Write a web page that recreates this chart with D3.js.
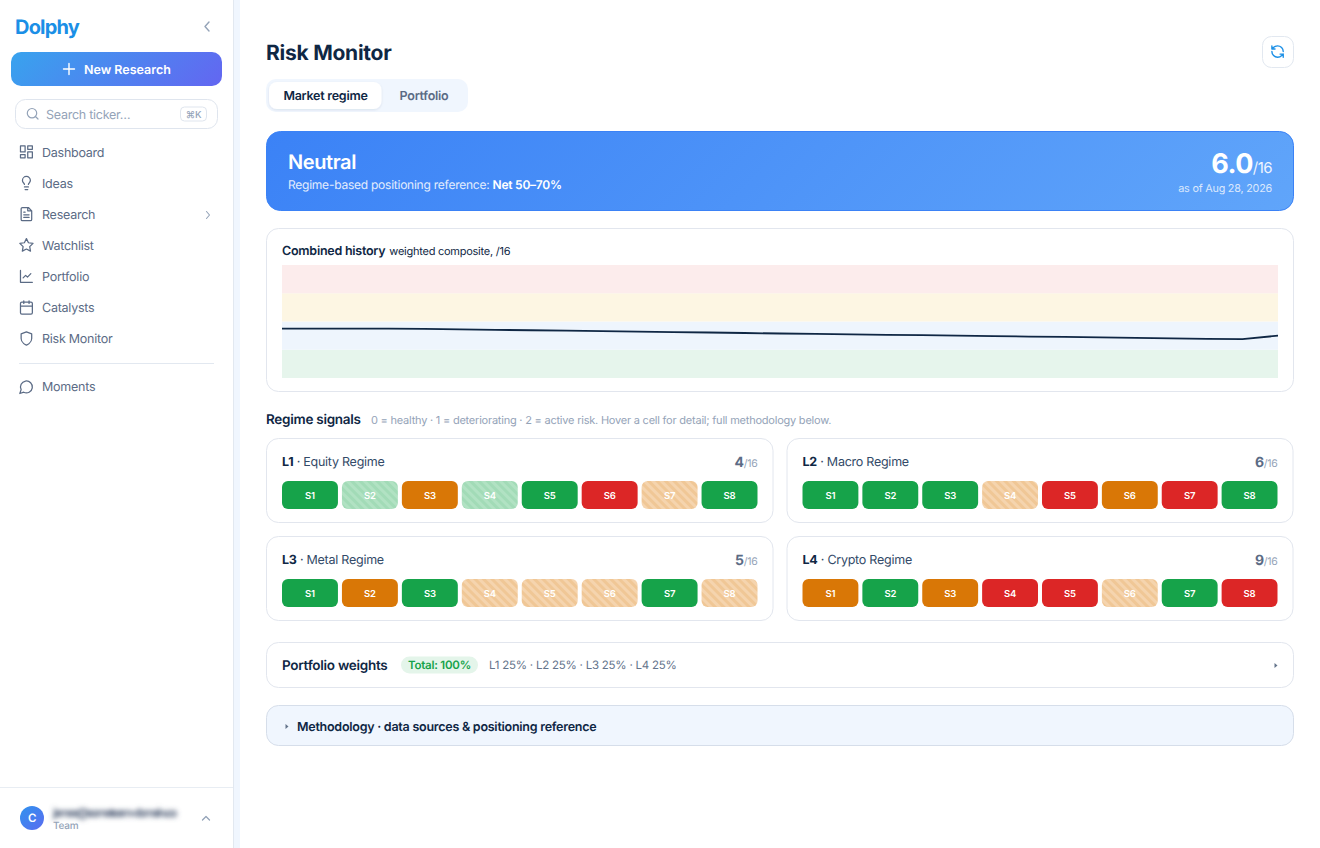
<!DOCTYPE html>
<html><head><meta charset="utf-8">
<script src="https://cdn.jsdelivr.net/npm/d3@7"></script>
<style>
html,body{margin:0;padding:0;background:#fff;overflow:hidden}
svg{display:block}
text{font-family:Inter,"Noto Sans",sans-serif;text-rendering:geometricPrecision;letter-spacing:-0.02em}
</style></head><body><div id="app"></div>
<script>
const navItems=["Dashboard","Ideas","Research","Watchlist","Portfolio","Catalysts","Risk Monitor"];
const historyValues=[7.0,7.0,7.0,7.0,6.95,6.88,6.82,6.76,6.7,6.63,6.56,6.5,6.44,6.37,6.3,6.25,6.19,6.12,6.06,6.0,5.94,5.87,5.81,5.75,5.69,5.62,5.54,5.5,6.0];
const bandEdges=[0,4,8,12,16];
const bandColors=["#e6f5ec","#eef5fd","#fdf6e3","#fcecec"];
const signalNames=["S1","S2","S3","S4","S5","S6","S7","S8"];
const layerIds=["L1","L2","L3","L4"];
const layerNames=["Equity Regime","Macro Regime","Metal Regime","Crypto Regime"];
const layerScores=[4,6,5,9];
const layerSignals=[[0,0,1,0,0,2,1,0],[0,0,0,1,2,1,2,0],[0,1,0,1,1,1,0,1],[1,0,1,2,2,1,0,2]];
const layerHatched=[[0,1,0,1,0,0,1,0],[0,0,0,1,0,0,0,0],[0,0,0,1,1,1,0,1],[0,0,0,0,0,1,0,0]];
const stateColors=["#16a34a","#d97706","#dc2626"];
const hatchDark=["#a2dbb7","#f0c796","#f0a8a8"];
const hatchLight=["#b1e2c3","#f5d4ae","#f5bcbc"];
const weightsText="L1 25% · L2 25% · L3 25% · L4 25%";

const ink="#0f2744",slate="#5b6b85",muted="#94a3b8";
const svg=d3.select("#app").append("svg").attr("width",1320).attr("height",848);
const defs=svg.append("defs");
function grad(id,x1,y1,x2,y2,stops){const g=defs.append("linearGradient").attr("id",id).attr("gradientUnits","userSpaceOnUse").attr("x1",x1).attr("y1",y1).attr("x2",x2).attr("y2",y2);
 stops.forEach(([o,c])=>g.append("stop").attr("offset",o).attr("stop-color",c));}
grad("btn",55,8,178,130,[["0%","#38a3ee"],["100%","#6366f1"]]);
grad("hero",503,-105,1056,447,[["0%","#3b82f6"],["100%","#60a5fa"]]);
grad("ava",20,806,44,830,[["0%","#2f93ee"],["100%","#5b6cf0"]]);
defs.append("filter").attr("id","blur").attr("x","-10%").attr("y","-60%").attr("width","120%").attr("height","220%").append("feGaussianBlur").attr("stdDeviation",2.4);
const sh=defs.append("filter").attr("id","tabsh").attr("x","-10%").attr("y","-20%").attr("width","120%").attr("height","150%");
sh.append("feDropShadow").attr("dx",0).attr("dy",1).attr("stdDeviation",1.2).attr("flood-color","#0f2744").attr("flood-opacity",0.1);
stateColors.forEach((c,i)=>{
 const p=defs.append("pattern").attr("id","hatch"+i).attr("width",6).attr("height",6).attr("patternUnits","userSpaceOnUse").attr("patternTransform","rotate(-45)");
 p.append("rect").attr("width",6).attr("height",6).attr("fill",hatchDark[i]);
 p.append("rect").attr("width",3).attr("height",6).attr("fill",hatchLight[i]);
});
function rect(g,x,y,w,h,r,fill,stroke,sw){return g.append("rect").attr("x",x).attr("y",y).attr("width",w).attr("height",h).attr("rx",r).attr("fill",fill).attr("stroke",stroke||"none").attr("stroke-width",sw||1);}
function text(g,x,y,s,size,weight,fill,anchor){return g.append("text").attr("x",x).attr("y",y).attr("font-size",size).attr("font-weight",weight).attr("fill",fill).attr("text-anchor",anchor||"start").text(s);}
function icon(g,x,y,d,stroke,scale,sw){return g.append("path").attr("transform",`translate(${x},${y}) scale(${scale||1})`).attr("d",d).attr("fill","none").attr("stroke",stroke).attr("stroke-width",sw||1.5).attr("stroke-linecap","round").attr("stroke-linejoin","round");}

/* sidebar */
const side=svg.append("g");
rect(side,233,0,7,848,0,"#f0f6fe");
side.append("line").attr("x1",233.5).attr("x2",233.5).attr("y1",0).attr("y2",848).attr("stroke","#e2e8f0");
text(side,15,34,"Dolphy",20,700,"#1b8fe6").style("letter-spacing","-0.04em");
icon(side,202,21,"M7 1L3 5.5L7 10",muted,1,1.4);
rect(side,11,52,211,34,10,"url(#btn)");
icon(side,63.5,63.5,"M5.5 0V11M0 5.5H11","#fff",1,1.4);
text(side,84,73.5,"New Research",12.5,600,"#fff").style("letter-spacing","0");
rect(side,15.5,99.5,202,29,10,"#fff","#dfe5ee");
icon(side,27,108,"M5 0.5a4.7 4.7 0 1 0 0 9.4a4.7 4.7 0 1 0 0-9.4M8.5 8.5L11 11",muted,1,1.2);
text(side,46,119,"Search ticker…",12.5,400,muted);
rect(side,180.5,107,26,14,4,"#fff","#dfe5ee");
text(side,193.5,118,"⌘K",9.5,500,muted,"middle").attr("font-family","Inter,'DejaVu Sans',sans-serif");
const navIcons=[
 "M3 3h7v9H3zM14 3h7v5h-7zM14 12h7v9h-7zM3 16h7v5H3z",
 "M15 14c.2-1 .7-1.7 1.5-2.5A6 6 0 0 0 18 8A6 6 0 0 0 6 8c0 1 .2 2.2 1.5 3.5c.7.7 1.3 1.5 1.5 2.5M9 18h6M10 22h4",
 "M15 2H6a2 2 0 0 0-2 2v16a2 2 0 0 0 2 2h12a2 2 0 0 0 2-2V7zM14 2v5h6M16 13H8M16 17H8M10 9H8",
 "M12 2l3.09 6.26L22 9.27l-5 4.87l1.18 6.88L12 17.77l-6.18 3.25L7 14.14L2 9.27l6.91-1.01z",
 "M3 3v18h18M18.7 8l-5.1 5.2l-2.8-2.7L7 14.3",
 "M8 2v4M16 2v4M5 4h14a2 2 0 0 1 2 2v14a2 2 0 0 1-2 2H5a2 2 0 0 1-2-2V6a2 2 0 0 1 2-2zM3 10h18",
 "M12 22s8-3 8-10V5l-8-3l-8 3v7c0 7 8 10 8 10z"];
const navY=d3.scalePoint().domain(navItems).range([152,338.6]);
navItems.forEach((n,i)=>{
 const y=navY(n);
 icon(side,18.5,y-8,navIcons[i],slate,0.66,1.9);
 text(side,42,y+4.5,n,12.5,400,slate);
});
icon(side,205.5,211,"M1 0.5L4 4L1 7.5",muted,1,1.1);
side.append("line").attr("x1",19).attr("x2",214).attr("y1",363.5).attr("y2",363.5).attr("stroke","#e2e8f0");
icon(side,18.5,379,"M7.9 20A9 9 0 1 0 4 16.1L2 22z",slate,0.66,1.9);
text(side,42,391,"Moments",12.5,400,slate);
side.append("line").attr("x1",0).attr("x2",233).attr("y1",787.5).attr("y2",787.5).attr("stroke","#e8edf3");
side.append("circle").attr("cx",32).attr("cy",818).attr("r",12).attr("fill","url(#ava)");
text(side,32,822,"C",11.5,600,"#fff","middle");
text(side,53,817,"james@someteam-domain.co",12,700,"#56647c").attr("textLength",124).attr("filter","url(#blur)");
text(side,53,829,"Team",10,500,muted);
icon(side,202,815,"M0.5 5L4 1.5L7.5 5",muted,1,1.3);

/* header */
const main=svg.append("g");
text(main,266,59.5,"Risk Monitor",21,700,ink).style("letter-spacing","-0.012em");
rect(main,1262.5,36.5,31,31,9,"#fff","#e2e8f0");
icon(main,1270,44,"M21 12a9 9 0 0 0-9-9a9.75 9.75 0 0 0-6.74 2.74L3 8M3 3v5h5M3 12a9 9 0 0 0 9 9a9.75 9.75 0 0 0 6.74-2.74L21 16M16 16h5v5","#1b8fe6",0.63,2.2);
rect(main,266,79,202,33,10,"#f0f6fe");
rect(main,269,82,112.5,27,8,"#fff").attr("filter","url(#tabsh)");
text(main,325.5,100,"Market regime",12.5,600,ink,"middle");
text(main,424,100,"Portfolio",12.5,600,slate,"middle");

/* hero */
rect(main,266.5,131.5,1027,79,14,"url(#hero)","#3b82f6");
text(main,288,169,"Neutral",20,600,"#fff");
const sub=text(main,288,188.5,"Regime-based positioning reference: ",12,400,"#e3edfd");
sub.append("tspan").attr("font-weight",600).attr("fill","#fff").text("Net 50–70%");
const sc=text(main,1272,173,"6.0",27,700,"#fff","end");
sc.append("tspan").attr("font-size",15).attr("font-weight",400).attr("fill","#eef4fe").text("/16");
text(main,1272,191.5,"as of Aug 28, 2026",10.8,400,"#dbe8fd","end");

/* history chart */
rect(main,266.5,228.5,1027,163,12,"#fff","#e2e6ee");
const ct=text(main,282,254.5,"Combined history",12.5,600,ink);
ct.append("tspan").attr("dx",4).attr("font-size",11).attr("font-weight",400).text("weighted composite, /16");
const x=d3.scaleLinear().domain([0,historyValues.length-1]).range([282,1278]);
const y=d3.scaleLinear().domain([0,16]).range([378,265]);
const bands=main.append("g");
bands.selectAll("rect").data(bandColors).join("rect")
 .attr("x",x(0)).attr("width",x.range()[1]-x.range()[0])
 .attr("y",(d,i)=>y(bandEdges[i+1])).attr("height",(d,i)=>y(bandEdges[i])-y(bandEdges[i+1])).attr("fill",d=>d);
main.append("path").datum(historyValues).attr("fill","none").attr("stroke",ink).attr("stroke-width",1.8)
 .attr("d",d3.line().x((d,i)=>x(i)).y(d=>y(d)));

/* signals */
text(main,266,424,"Regime signals",13.5,600,ink);
text(main,371,424,"0 = healthy · 1 = deteriorating · 2 = active risk. Hover a cell for detail; full methodology below.",11,400,muted);
const cardX=[266.5,787],cardY=[438.5,536.5];
layerIds.forEach((id,k)=>{
 const cx=cardX[k%2],cy=cardY[Math.floor(k/2)],w=k%2?506.5:507;
 const g=main.append("g");
 rect(g,cx,cy,w-0.5,84,12,"#fff","#e2e6ee");
 const t=text(g,cx+15.5,cy+27,id,12.5,700,ink);
 t.append("tspan").attr("font-weight",400).attr("fill","#334a68").text(" · "+layerNames[k]);
 const s=text(g,cx+w-16,cy+28,layerScores[k],14,700,slate,"end");
 s.append("tspan").attr("font-size",10.5).attr("font-weight",400).attr("fill",muted).text("/16");
 const b=d3.scaleBand().domain(signalNames).range([cx+15.5,cx+w-16]).paddingInner(4/60);
 const cells=g.selectAll("g.cell").data(signalNames).join("g").attr("class","cell");
 cells.append("rect").attr("x",d=>b(d)).attr("y",cy+42.5).attr("width",b.bandwidth()).attr("height",28).attr("rx",6)
  .attr("fill",(d,i)=>layerHatched[k][i]?`url(#hatch${layerSignals[k][i]})`:stateColors[layerSignals[k][i]]);
 cells.append("text").attr("x",d=>b(d)+b.bandwidth()/2).attr("y",cy+60).attr("text-anchor","middle")
  .attr("font-size",9.5).attr("font-weight",600).attr("fill","#fff").text(d=>d);
});

/* weights */
rect(main,266.5,642.5,1027,45,12,"#fff","#e2e6ee");
text(main,282,670,"Portfolio weights",13.5,600,ink);
rect(main,401,656.5,77,17,8.5,"#e4f5ea");
text(main,439.5,669,"Total: 100%",11.5,600,"#16a34a","middle");
text(main,489,669,weightsText,11.5,400,"#64748b");
main.append("path").attr("d","M1274.5 663L1277.5 665.5L1274.5 668Z").attr("fill","#64748b");
rect(main,266.5,705.5,1027,40,12,"#f0f6fe","#d6deea");
main.append("path").attr("d","M285.5 724L288.5 726.5L285.5 729Z").attr("fill","#64748b");
text(main,297,730.5,"Methodology · data sources & positioning reference",12.5,600,ink);
</script></body></html>
